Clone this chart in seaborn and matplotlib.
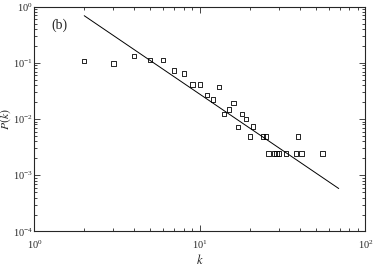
import pandas as pd
import matplotlib.pyplot as plt
import matplotlib.ticker as mticker
import seaborn as sns
import numpy as np

sns.set_style("ticks")
plt.rcParams['font.family'] = ['Liberation Serif', 'DejaVu Serif']
plt.rcParams['mathtext.fontset'] = 'stix'

# degree distribution points
k_vals = [2, 3, 4, 5, 6, 7, 8, 9, 10, 11, 12, 13, 14, 15, 16, 17, 18, 19, 20,
          21, 24, 25, 26, 28, 29, 30, 33, 38, 39, 41, 55]
p_vals = [0.109, 0.098, 0.132, 0.112, 0.112, 0.0725, 0.065, 0.0415, 0.0415,
          0.0271, 0.0221, 0.0371, 0.0123, 0.0147, 0.0195, 0.0073, 0.0123,
          0.0099, 0.0049, 0.0074, 0.0049, 0.0049, 0.00245, 0.00245, 0.00245,
          0.00245, 0.00245, 0.00245, 0.0049, 0.00245, 0.00245]

# fitted power law, endpoints
line_k = [2, 69]
line_p = [0.69, 0.00058]


def main():
    df = pd.DataFrame({"k": k_vals, "P": p_vals})
    df_line = pd.DataFrame({"k": line_k, "P": line_p})

    fig = plt.figure(figsize=(3.74, 2.66), dpi=100)
    ax = fig.add_axes([0.092, 0.130, 0.885, 0.845])

    sns.lineplot(x="k", y="P", data=df_line, color='black', linewidth=0.7, ax=ax)
    sns.scatterplot(x="k", y="P", data=df, marker='s', s=10, fc='none',
                    ec='black', linewidth=0.6, ax=ax)

    ax.set_xscale('log')
    ax.set_yscale('log')
    ax.set_xlim(1, 100)
    ax.set_ylim(1e-4, 1)
    ax.xaxis.set_major_locator(mticker.LogLocator(base=10, numticks=5))
    ax.yaxis.set_major_locator(mticker.LogLocator(base=10, numticks=6))
    ax.xaxis.set_minor_locator(mticker.LogLocator(base=10, subs=np.arange(2, 10), numticks=10))
    ax.yaxis.set_minor_locator(mticker.LogLocator(base=10, subs=np.arange(2, 10), numticks=10))
    ax.tick_params(which='both', direction='in', top=True, right=True,
                   labelsize=7.5, width=0.6)
    ax.tick_params(axis='x', which='major', pad=5)
    ax.tick_params(axis='y', which='major', pad=1)
    ax.tick_params(which='major', length=4)
    ax.tick_params(which='minor', length=2)
    for sp in ax.spines.values():
        sp.set_linewidth(0.8)

    ax.set_xlabel('$k$', fontsize=9)
    ax.set_ylabel('$P(k)$', fontsize=8.5)
    ax.xaxis.set_label_coords(0.5, -0.095)
    ax.yaxis.set_label_coords(-0.066, 0.5)
    ax.text(0.05, 0.9, '(b)', transform=ax.transAxes, fontsize=10)

    plt.savefig('out.png', dpi=100)


main()
